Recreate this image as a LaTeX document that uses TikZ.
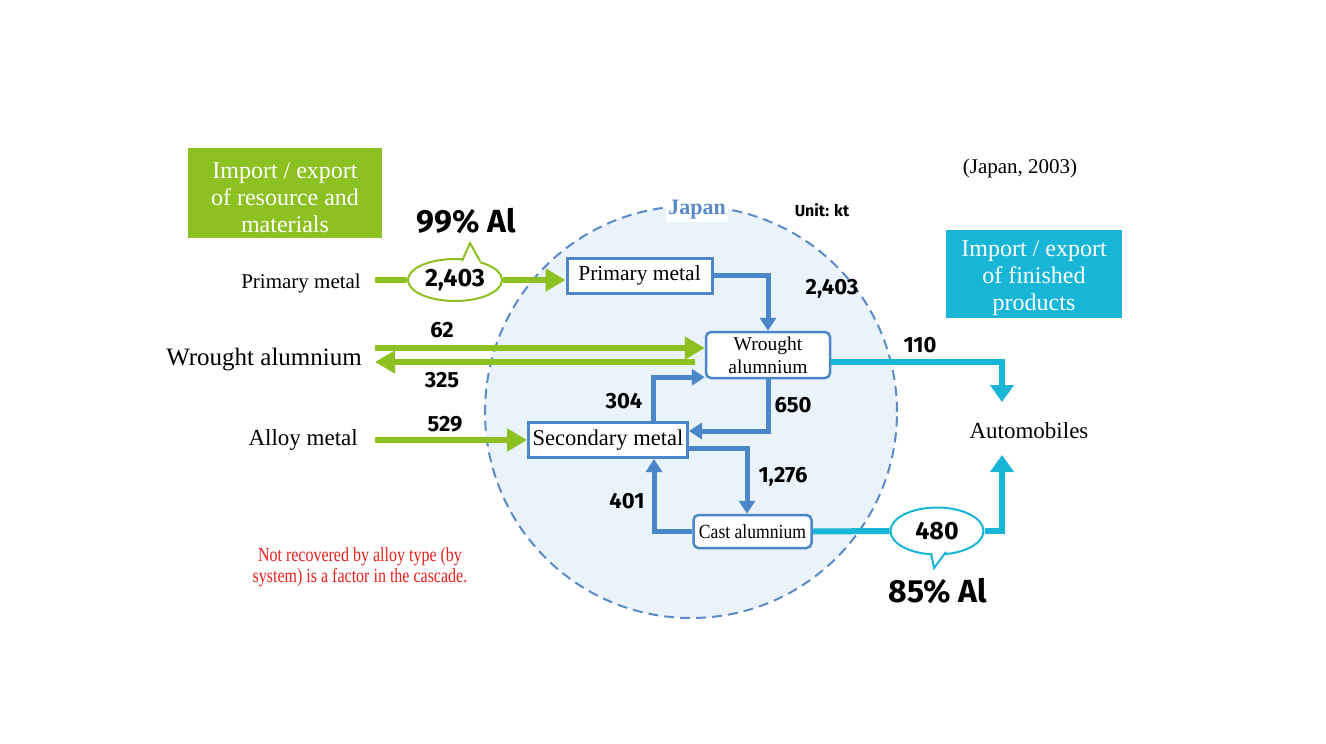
\documentclass[tikz,border=0pt]{standalone}
\usepackage{fontspec}
\setmainfont{Liberation Serif}
\newfontfamily\numfont{Fira Sans}
\newfontfamily\notefont{Liberation Serif}[FakeStretch=0.8]
\newfontfamily\castfont{Liberation Serif}[FakeStretch=0.88]
\usetikzlibrary{arrows.meta,shapes.geometric}

\definecolor{algreen}{RGB}{141,192,33}
\definecolor{alblue}{RGB}{74,134,200}
\definecolor{alcyan}{RGB}{23,181,214}
\definecolor{jpfill}{RGB}{234,242,250}
\definecolor{jpline}{RGB}{91,139,197}
\definecolor{notered}{RGB}{232,32,27}

\tikzset{
  num/.style={font=\numfont\bfseries\fontsize{22}{24}\selectfont},
  bignum/.style={font=\numfont\bfseries\fontsize{25}{28}\selectfont},
  pct/.style={font=\numfont\bfseries\fontsize{32}{36}\selectfont},
  lab/.style={anchor=east, inner sep=0pt},
  gline/.style={algreen, line width=6pt},
  gflow/.style={gline, -{Triangle[width=22pt,length=20pt]}},
  bflow/.style={alblue, line width=5pt, -{Triangle[width=16pt,length=13pt]}},
  cline/.style={alcyan, line width=6pt},
  cflow/.style={cline, -{Triangle[width=23pt,length=17pt]}},
  stockbox/.style={draw=alblue, line width=3pt, fill=white, inner sep=2pt},
  flowbox/.style={stockbox, line width=2.5pt, rounded corners=5pt},
  headbox/.style={inner sep=0pt},
  headtext/.style={text=white, align=center, inner sep=0pt, font=\fontsize{24}{27}\selectfont},
  bubble/.style={ellipse, line width=2pt, fill=white, inner sep=0pt},
}

\begin{document}
\begin{tikzpicture}[x=1pt,y=-1pt]
    \useasboundingbox (0,0) rectangle (1326,744);

    \fill[jpfill] (691,412) circle (206pt);
    \draw[jpline, line width=2pt, dash pattern=on 10pt off 6pt] (691,412) circle (206pt);
    \node[fill=white, inner sep=2pt, text=jpline, font=\bfseries\fontsize{22}{24}\selectfont] (jplab) at (697,210) {Japan};

    \node[headbox, fill=algreen, minimum width=194pt, minimum height=90pt] (resbox) at (285,193) {};
    \node[headtext] (restext) at (285,198) {Import / export\\of resource and\\materials};
    \node[headbox, fill=alcyan, minimum width=176pt, minimum height=88pt] (prodbox) at (1034,274) {};
    \node[headtext] (prodtext) at (1034,278) {Import / export\\of finished\\products};
    \node[font=\fontsize{21}{24}\selectfont] (yearlab) at (1020,168) {(Japan, 2003)};
    \node[font=\numfont\bfseries\fontsize{16}{18}\selectfont] (unitlab) at (822,210) {Unit: kt};

    \node[lab, font=\fontsize{21}{24}\selectfont] (pmlab) at (361,283) {Primary metal};
    \node[lab, font=\fontsize{25}{28}\selectfont] (walab) at (362,360) {Wrought alumnium};
    \node[lab, font=\fontsize{23}{26}\selectfont] (amlab) at (358,440) {Alloy metal};

    \coordinate (pmin) at (375,280);
    \coordinate (wain) at (375,348);
    \coordinate (waout) at (375,362);
    \coordinate (waback) at (695,362);
    \coordinate (amin) at (375,440);
    \coordinate (autotop) at (1002,402);
    \coordinate (autobot) at (1002,455);

    \node[stockbox, minimum width=145pt, minimum height=35pt, font=\fontsize{21.5}{24}\selectfont] (pmbox) at (639.5,275.5) {Primary metal};
    \node[flowbox, minimum width=124pt, minimum height=46pt, align=center, font=\fontsize{19.5}{23}\selectfont] (wabox) at (768,355) {Wrought\\alumnium};
    \node[stockbox, minimum width=159pt, minimum height=35pt, font=\fontsize{22.5}{25}\selectfont] (smbox) at (608,440) {Secondary metal};
    \node[flowbox, minimum width=118pt, minimum height=33pt, font=\castfont\fontsize{20}{22}\selectfont] (cabox) at (752.5,531.5) {Cast alumnium};
    \node[font=\fontsize{23}{26}\selectfont] (auto) at (1029,431) {Automobiles};

    \node[bubble, draw=algreen, minimum width=94pt, minimum height=42pt, bignum] (e2403) at (455,280) {2,403};
    \node[bubble, draw=alcyan, minimum width=93pt, minimum height=47pt, bignum] (e480) at (937,531) {480};
    \fill[white] (462,263) -- (470,243) -- (480,263) -- cycle;
    \draw[algreen, line width=2pt] (462,261) -- (470,243) -- (480,261);
    \fill[white] (931,550) -- (934,568) -- (946,550) -- cycle;
    \draw[alcyan, line width=2pt] (931,553) -- (934,568) -- (946,552);
    \node[pct] (pct99) at (466,221) {99\% Al};
    \node[pct] (pct85) at (938,591) {85\% Al};

    \draw[gline] (pmin) -- (e2403.west);
    \draw[gflow] (e2403.east) -- (pmbox.west |- e2403.east);
    \draw[gflow] (wain) -- (wabox.west |- wain);
    \draw[gflow] (waback) -- (waout);
    \draw[gflow] (amin) -- (smbox.west);

    \draw[bflow] (pmbox.east) -| (wabox.north);
    \draw[bflow] ([xshift=45pt]smbox.north) |- ([yshift=2pt]wabox.south west);
    \draw[bflow] (wabox.south) |- ([yshift=9pt]smbox.east);
    \draw[bflow] ([yshift=-8pt]smbox.east) -| ([xshift=-5.5pt]cabox.north);
    \draw[bflow] (cabox.west) -| ([xshift=46pt]smbox.south);

    \draw[cflow] (wabox.east |- waback) -| (autotop);
    \draw[cline] (cabox.east) -- (e480.west);
    \draw[cflow] (e480.east) -| (autobot);

    \node[num] (n62) at (442,330) {62};
    \node[num] (n325) at (442,380) {325};
    \node[num] (n529) at (445,424) {529};
    \node[num] (n2403) at (832,289) {2,403};
    \node[num] (n110) at (920,345) {110};
    \node[num] (n650) at (793,405) {650};
    \node[num] (n304) at (624,401) {304};
    \node[num] (n1276) at (783,477) {1,276};
    \node[num] (n401) at (627,501) {401};

    \node[text=notered, align=center, font=\notefont\fontsize{20}{21}\selectfont] (note) at (360,567) {Not recovered by alloy type (by\\system) is a factor in the cascade.};
\end{tikzpicture}
\end{document}
